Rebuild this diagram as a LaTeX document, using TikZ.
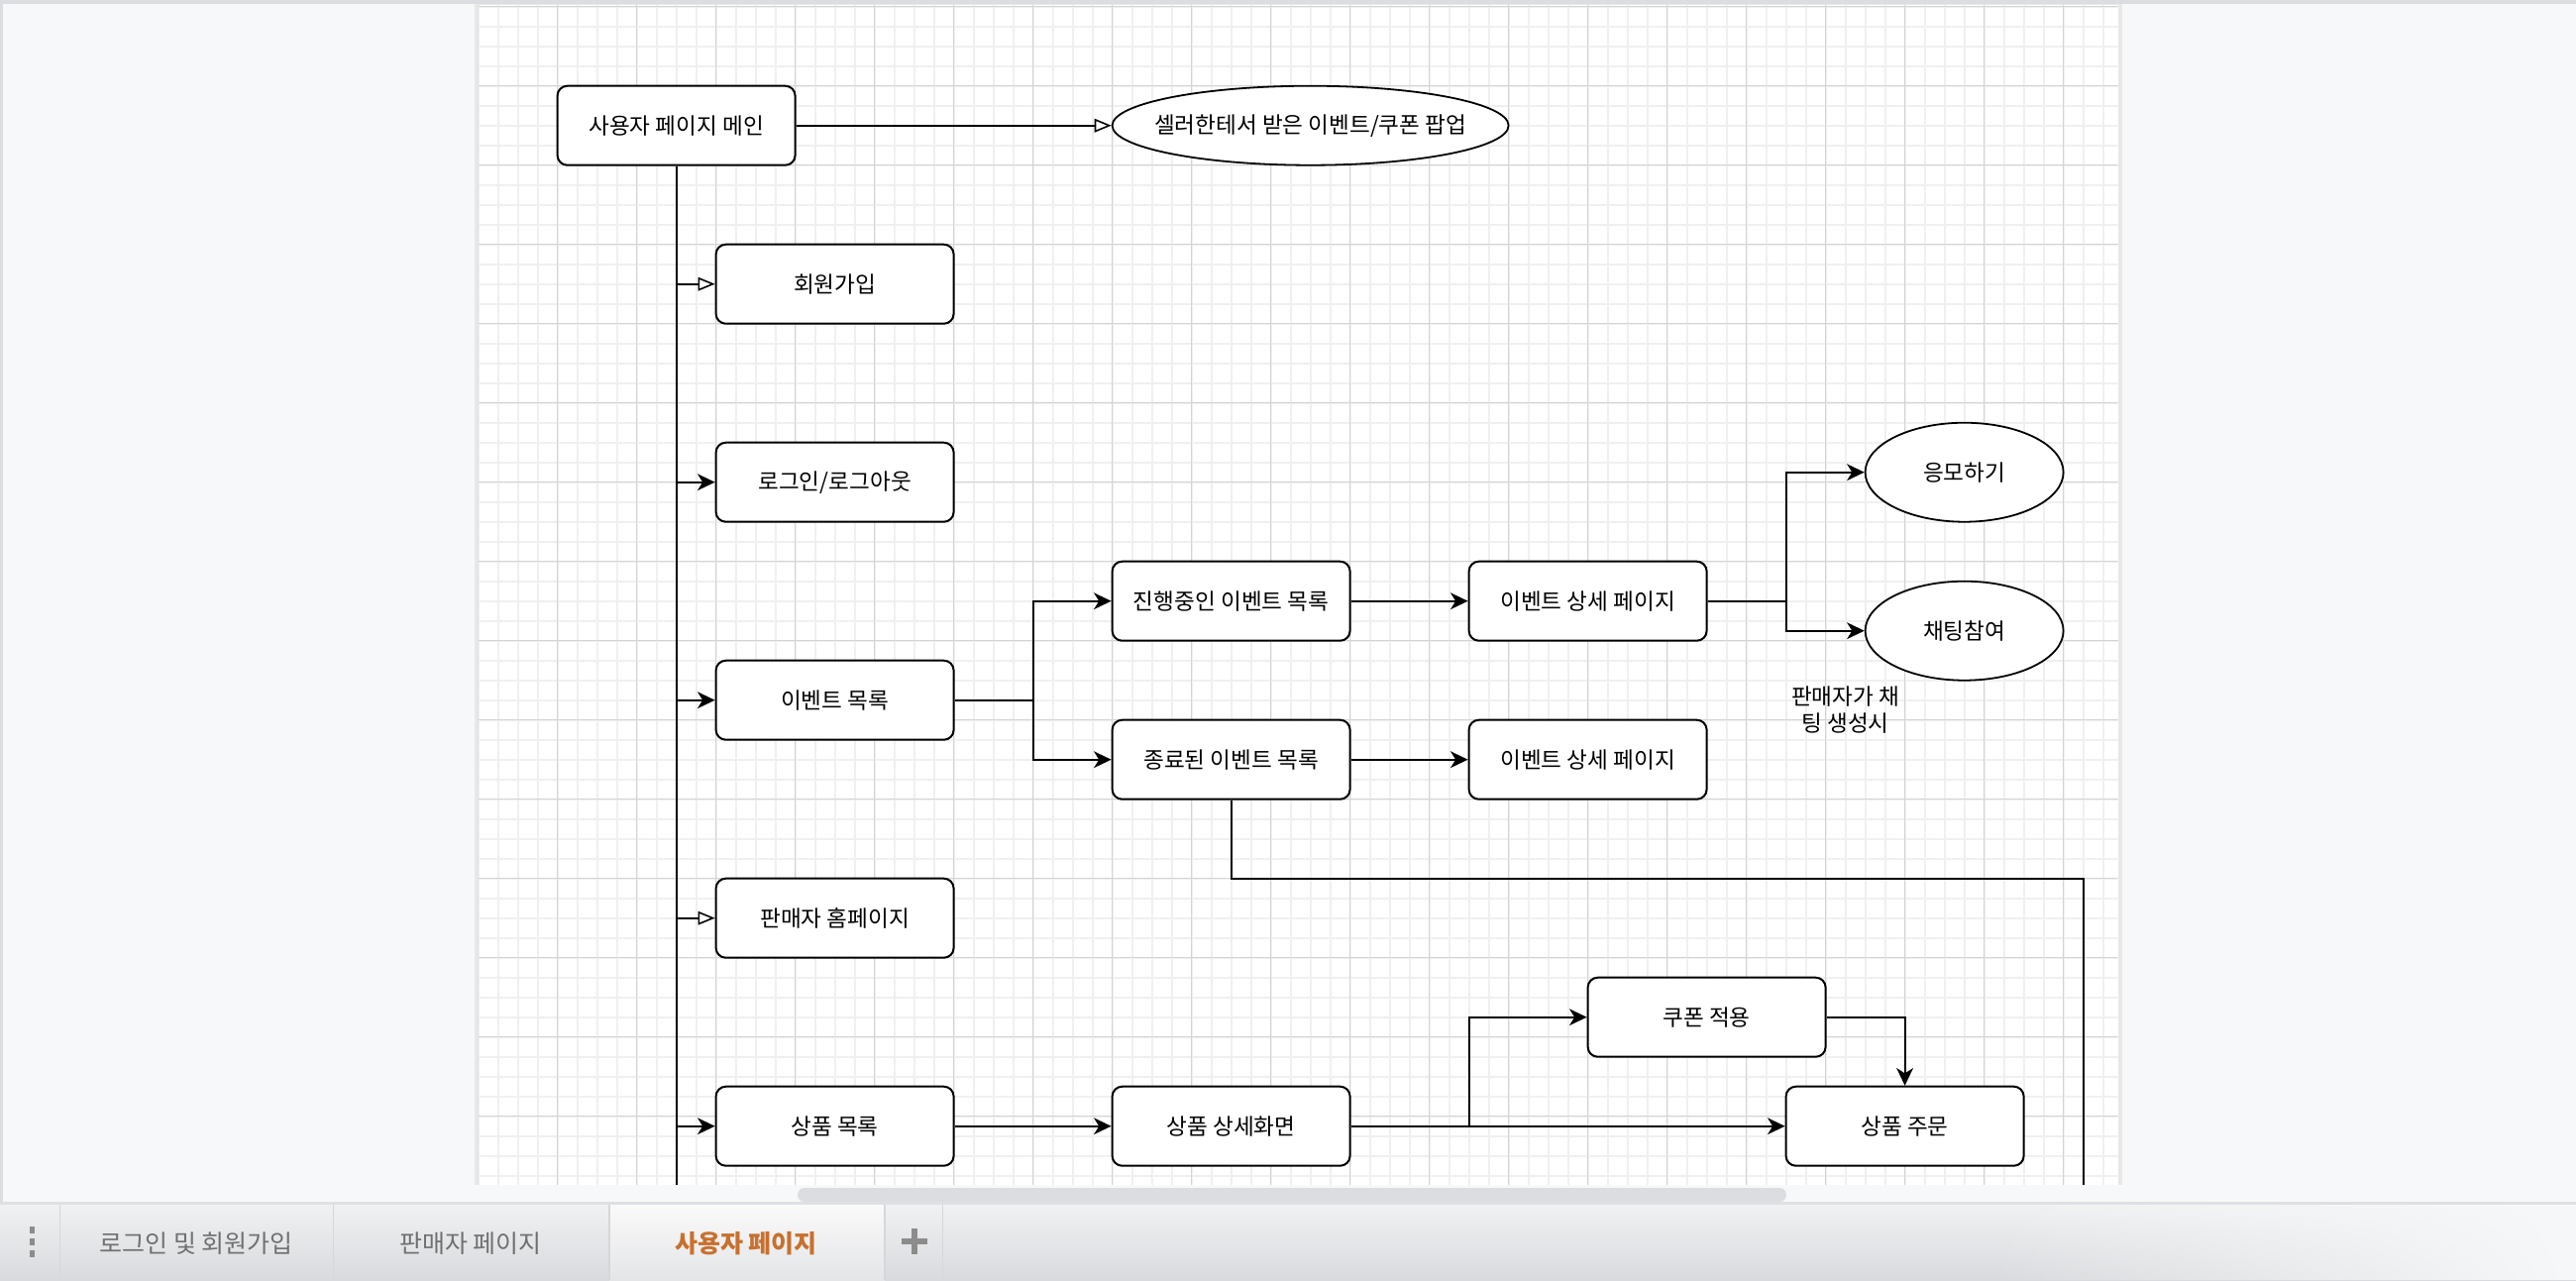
\documentclass[tikz,border=0pt]{standalone}
\usepackage{fontspec}
\setmainfont{Noto Sans CJK KR}
\usetikzlibrary{arrows.meta,shapes.geometric,fadings}
\definecolor{bgc}{HTML}{F7F8F9}
\definecolor{barc}{HTML}{DCDDE1}
\definecolor{minorc}{HTML}{F0F0F0}
\definecolor{majorc}{HTML}{D4D4D4}
\definecolor{thumbc}{HTML}{DCDDE0}
\definecolor{tabtop}{HTML}{F0F1F3}
\definecolor{tabbot}{HTML}{D9DADD}
\definecolor{tabsep}{HTML}{D6D7DA}
\definecolor{orangec}{HTML}{C8702E}
\definecolor{tabtxt}{HTML}{707070}
\definecolor{plusc}{HTML}{8C8C8C}
\tikzset{
  box/.style={draw=black, line width=1pt, fill=white, rounded corners=5pt,
    minimum width=120pt, minimum height=40pt, inner sep=0pt,
    font=\fontsize{11.3}{14}\selectfont},
  ell/.style={draw=black, line width=0.9pt, fill=white, ellipse, inner sep=-30pt,
    font=\fontsize{11.3}{14}\selectfont},
  notetext/.style={align=center, inner sep=0pt, font=\fontsize{11.3}{13.8}\selectfont},
  conn/.style={draw=black, line width=0.9pt},
  farr/.style={-{Stealth[length=8.8pt,width=8.4pt,inset=2.6pt]}},
  oarr/.style={-{Triangle[length=8.5pt,width=6.8pt,fill=white,line width=0.8pt]}},
  tablabel/.style={text=tabtxt, font=\fontsize{12.5}{15}\selectfont, inner sep=0pt}
}
\begin{document}
\begin{tikzpicture}[x=0.5pt,y=-0.5pt]
\useasboundingbox (0,0) rectangle (2600,1292);
% application background
\fill[bgc] (0,0) rectangle (2600,1292);
\fill[barc] (0,0) rectangle (2600,4);
\fill[barc] (0,0) rectangle (3,1215);
% page
\fill[black!9] (478.6,4) rectangle (2141.5,1196);
\fill[white] (482.6,5) rectangle (2137.5,1195.7);
\begin{scope}
  \clip (482.6,5) rectangle (2137.5,1195.7);
  \foreach \i in {0,...,83} \draw[minorc, line width=1pt] (482.6+20*\i,5) -- (482.6+20*\i,1195.7);
  \foreach \j in {0,...,60} \draw[minorc, line width=1pt] (482.6,6.7+20*\j) -- (2137.5,6.7+20*\j);
  \foreach \i in {0,...,21} \draw[majorc, line width=0.5pt] (482.6+80*\i,5) -- (482.6+80*\i,1195.7);
  \foreach \j in {0,...,15} \draw[majorc, line width=0.5pt] (482.6,6.7+80*\j) -- (2137.5,6.7+80*\j);
\end{scope}
% diagram
\begin{scope}[shift={(562.6,86.7)}, x=1pt, y=-1pt]
  \node[box] (main) at (60,20) {사용자 페이지 메인};
  \node[ell, minimum width=200pt, minimum height=40pt] (popup) at (380,20) {셀러한테서 받은 이벤트/쿠폰 팝업};
  \node[box] (signup) at (140,100) {회원가입};
  \node[box] (login) at (140,200) {로그인/로그아웃};
  \node[box] (evlist) at (140,310) {이벤트 목록};
  \node[box] (ongoing) at (340,260) {진행중인 이벤트 목록};
  \node[box] (ended) at (340,340) {종료된 이벤트 목록};
  \node[box] (det1) at (520,260) {이벤트 상세 페이지};
  \node[box] (det2) at (520,340) {이벤트 상세 페이지};
  \node[ell, minimum width=100pt, minimum height=50pt] (apply) at (710,195) {응모하기};
  \node[ell, minimum width=100pt, minimum height=50pt] (chat) at (710,275) {채팅참여};
  \node[notetext] (note) at (650,315) {판매자가 채\\팅 생성시};
  \node[box] (seller) at (140,420) {판매자 홈페이지};
  \node[box] (plist) at (140,525) {상품 목록};
  \node[box] (pdet) at (340,525) {상품 상세화면};
  \node[box] (coupon) at (580,470) {쿠폰 적용};
  \node[box] (order) at (680,525) {상품 주문};
  % junction coordinates
  \coordinate (tend) at (60,554.5);
  \coordinate (t1) at (60,100);
  \coordinate (t2) at (60,200);
  \coordinate (t3) at (60,310);
  \coordinate (t4) at (60,420);
  \coordinate (t5) at (60,525);
  \coordinate (b1) at (240,310);
  \coordinate (b2) at (620,260);
  \coordinate (b3) at (460,525);
  \coordinate (c1) at (340,400);
  \coordinate (c2) at (770,400);
  \coordinate (c3) at (770,554.5);
  % connectors
  \draw[conn, oarr] (main.east) -- (popup.west);
  \draw[conn] (main.south) -- (tend);
  \draw[conn, oarr] (t1) -- (signup.west);
  \draw[conn, farr] (t2) -- (login.west);
  \draw[conn, farr] (t3) -- (evlist.west);
  \draw[conn, oarr] (t4) -- (seller.west);
  \draw[conn, farr] (t5) -- (plist.west);
  \draw[conn] (evlist.east) -- (b1);
  \draw[conn, farr] (b1) |- (ongoing.west);
  \draw[conn, farr] (b1) |- (ended.west);
  \draw[conn, farr] (ongoing.east) -- (det1.west);
  \draw[conn, farr] (ended.east) -- (det2.west);
  \draw[conn] (det1.east) -- (b2);
  \draw[conn, farr] (b2) |- (apply.west);
  \draw[conn, farr] (b2) |- (chat.west);
  \draw[conn] (ended.south) -- (c1) -- (c2) -- (c3);
  \draw[conn, farr] (plist.east) -- (pdet.west);
  \draw[conn, farr] (pdet.east) -- (order.west);
  \draw[conn, farr] (b3) |- (coupon.west);
  \draw[conn, farr] (coupon.east) -| (order.north);
\end{scope}
% scrollbar
\fill[thumbc, rounded corners=3.5pt] (805,1199) rectangle (1803,1213);
% tab bar
\fill[barc!90!white] (0,1213) rectangle (2600,1216);
\shade[top color=tabtop, bottom color=tabbot] (0,1216) rectangle (2600,1292);
\shade[top color=white!98!black, bottom color=tabbot!70!white] (615,1216) rectangle (893,1292);
\fill[bgc, path fading=west] (2000,1216) rectangle (2600,1292);
\foreach \sx in {60.6,336.7,615,893,951.5} \draw[tabsep, line width=0.6pt] (\sx,1216) -- (\sx,1292);
\fill[plusc] (29.5,1238) rectangle (34.5,1245);
\fill[plusc] (29.5,1250) rectangle (34.5,1257);
\fill[plusc] (29.5,1262) rectangle (34.5,1269);
\node[tablabel] (tab1) at (198,1255) {로그인 및 회원가입};
\node[tablabel] (tab2) at (475,1255) {판매자 페이지};
\node[tablabel, text=orangec, font=\fontsize{12.5}{15}\selectfont\bfseries] (tab3) at (753,1255) {사용자 페이지};
\draw[plusc, line width=2.6pt] (910,1253) -- (936,1253);
\draw[plusc, line width=2.6pt] (923,1240) -- (923,1266);
\end{tikzpicture}
\end{document}
